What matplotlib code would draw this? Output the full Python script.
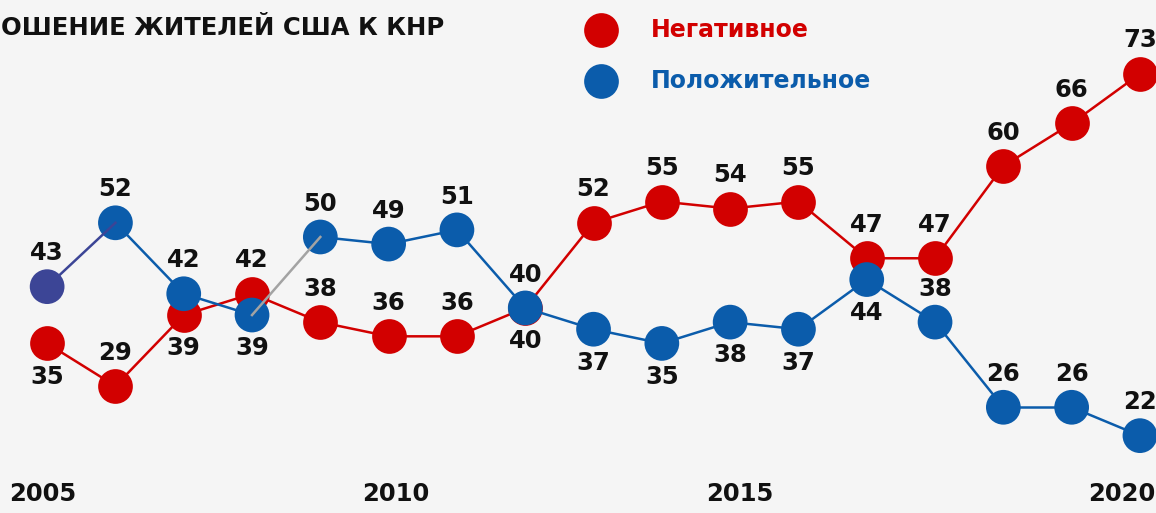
import numpy as np
import matplotlib.pyplot as plt
from matplotlib.transforms import blended_transform_factory

# data (Pew surveys, % of US adults)
years = ['2005', '2010', '2015', '2020']
negative = [35, 29, 39, 42, 38, 36, 36, 40, 52, 55, 54, 55, 47, 47, 60, 66, 73]
positive = [43, 52, 42, 39, 50, 49, 51, 40, 37, 35, 38, 37, 44, 38, 26, 26, 22]

# where the number goes: 1 = above the dot, -1 = below
neg_side = [-1, 1, -1, 1, 1, 1, 1, 1, 1, 1, 1, 1, 1, 1, 1, 1, 1]
pos_side = [1, 1, 1, -1, 1, 1, 1, -1, -1, -1, -1, -1, -1, 1, 1, 1, 1]

RED = '#d20000'
BLUE = '#0b5cab'
INDIGO = '#3c4596'
GREY = '#a3a3a3'
BG = '#f5f5f5'

W, H = 1156, 513
fig = plt.figure(figsize=(W / 100, H / 100), dpi=100, facecolor=BG)
ax = fig.add_axes([0, 0, 1, 1])
ax.set_facecolor(BG)
ax.axis('off')
ax.set_xlim(-0.69, 16.235)
ax.set_ylim(11.1, 83.4)

x = np.arange(len(negative))
MS = 25

# negative series
ax.plot(x, negative, color=RED, lw=1.8, zorder=1)
ax.plot(x, negative, 'o', ms=MS, mew=0, color=RED, zorder=2)

# positive series, a couple of segments are coloured differently
seg_colors = [INDIGO, BLUE, BLUE, GREY] + [BLUE] * (len(positive) - 5)
for i, c in enumerate(seg_colors):
    z = 5 if c != BLUE else 3
    ax.plot(x[i:i + 2], positive[i:i + 2], color=c, lw=1.8, zorder=z)
dot_colors = [INDIGO] + [BLUE] * (len(positive) - 1)
ax.scatter(x, positive, s=MS ** 2, c=dot_colors, linewidths=0, zorder=4)

# value labels
for xs, vals, sides in [(x, negative, neg_side), (x, positive, pos_side)]:
    for xi, v, s in zip(xs, vals, sides):
        ax.annotate(str(v), (xi, v), xytext=(0, 24 * s), textcoords='offset points',
                    ha='center', va='center', fontsize=17.5, fontweight='bold',
                    color='#111111', zorder=6)

# year labels along the bottom
year_pos = [-0.06, 5.11, 10.14, 15.74]
tr = blended_transform_factory(ax.transData, ax.transAxes)
for xp, yr in zip(year_pos, years):
    ax.text(xp, 1 - 494 / H, yr, transform=tr, ha='center', va='center',
            fontsize=17.5, fontweight='bold', color='#111111')

# title (cut off at the left edge in the original)
fig.text(1 / W, 1 - 28 / H, 'ОШЕНИЕ ЖИТЕЛЕЙ США К КНР', ha='left', va='center',
         fontsize=17.5, fontweight='bold', color='#111111')

# legend
for yp, col, lab in [(30, RED, 'Негативное'), (81, BLUE, 'Положительное')]:
    ax.plot([601 / W], [1 - yp / H], 'o', transform=ax.transAxes, ms=MS, mew=0,
            color=col, clip_on=False)
    ax.text(651 / W, 1 - yp / H, lab, transform=ax.transAxes, ha='left', va='center',
            fontsize=17, fontweight='bold', color=col)

fig.savefig('out.png', dpi=100, facecolor=BG)
